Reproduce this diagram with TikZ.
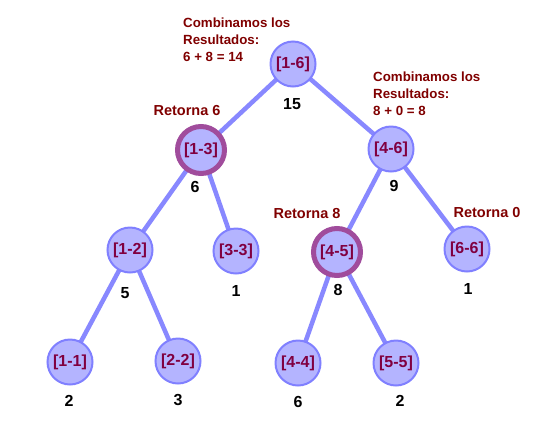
\documentclass[tikz,border=0pt]{standalone}
\usepackage{fontspec}
\setmainfont{Liberation Sans}
\begin{document}
\begin{tikzpicture}[x=1pt,y=-1pt,
  nd/.style={circle,draw=ndborder,line width=2pt,fill=ndfill,minimum size=45pt,inner sep=0pt,
    text=ndtext,font=\fontsize{16}{16}\bfseries\selectfont},
  hl/.style={nd,draw=ringpurple,line width=5pt,minimum size=47pt},
  edge/.style={draw=edgeblue,line width=4.5pt},
  val/.style={font=\fontsize{16}{16}\bfseries\selectfont,text=black,inner sep=0pt},
  note/.style={font=\fontsize{13.3}{17}\bfseries\selectfont,text=notered,align=left,inner sep=0pt},
  ret/.style={font=\fontsize{14.5}{16}\bfseries\selectfont,text=notered,inner sep=0pt}]
\definecolor{ndfill}{HTML}{B4B4FF}
\definecolor{ndborder}{HTML}{8080FF}
\definecolor{edgeblue}{HTML}{8888FF}
\definecolor{ndtext}{HTML}{800040}
\definecolor{ringpurple}{HTML}{A04C9C}
\definecolor{notered}{HTML}{800000}
\useasboundingbox (0,0) rectangle (537,429);
% node positions
\coordinate (p16) at (293,64);
\coordinate (p13) at (201,150);
\coordinate (p46) at (391,149);
\coordinate (p12) at (130,250);
\coordinate (p33) at (236,251);
\coordinate (p45) at (337,252);
\coordinate (p66) at (467,249);
\coordinate (p11) at (70,362);
\coordinate (p22) at (178,361);
\coordinate (p44) at (298,363);
\coordinate (p55) at (396,363);
% edges
\draw[edge] (p16) -- (p13);
\draw[edge] (p16) -- (p46);
\draw[edge] (p13) -- (p12);
\draw[edge] (p13) -- (p33);
\draw[edge] (p46) -- (p45);
\draw[edge] (p46) -- (p66);
\draw[edge] (p12) -- (p11);
\draw[edge] (p12) -- (p22);
\draw[edge] (p45) -- (p44);
\draw[edge] (p45) -- (p55);
% nodes
\node[nd] (n16) at (p16) {[1-6]};
\node[hl] (n13) at (p13) {[1-3]};
\node[nd] (n46) at (p46) {[4-6]};
\node[nd] (n12) at (p12) {[1-2]};
\node[nd] (n33) at (p33) {[3-3]};
\node[hl] (n45) at (p45) {[4-5]};
\node[nd] (n66) at (p66) {[6-6]};
\node[nd] (n11) at (p11) {[1-1]};
\node[nd] (n22) at (p22) {[2-2]};
\node[nd] (n44) at (p44) {[4-4]};
\node[nd] (n55) at (p55) {[5-5]};
% values
\node[val] (v16) at (292,104) {15};
\node[val] (v13) at (195,187) {6};
\node[val] (v46) at (394,186) {9};
\node[val] (v12) at (125,293) {5};
\node[val] (v33) at (236,291) {1};
\node[val] (v45) at (338,290) {8};
\node[val] (v66) at (468,289) {1};
\node[val] (v11) at (69,401) {2};
\node[val] (v22) at (178,400) {3};
\node[val] (v44) at (298,402) {6};
\node[val] (v55) at (400,401) {2};
% annotations
\node[note,anchor=north west] (c1) at (183,18) {Combinamos los\\Resultados:\\6 + 8 = 14};
\node[note,anchor=north west] (c2) at (373,72) {Combinamos los\\Resultados:\\8 + 0 = 8};
\node[ret] (r13) at (187,111) {Retorna 6};
\node[ret] (r45) at (307,214) {Retorna 8};
\node[ret] (r66) at (487,213) {Retorna 0};
\end{tikzpicture}
\end{document}
